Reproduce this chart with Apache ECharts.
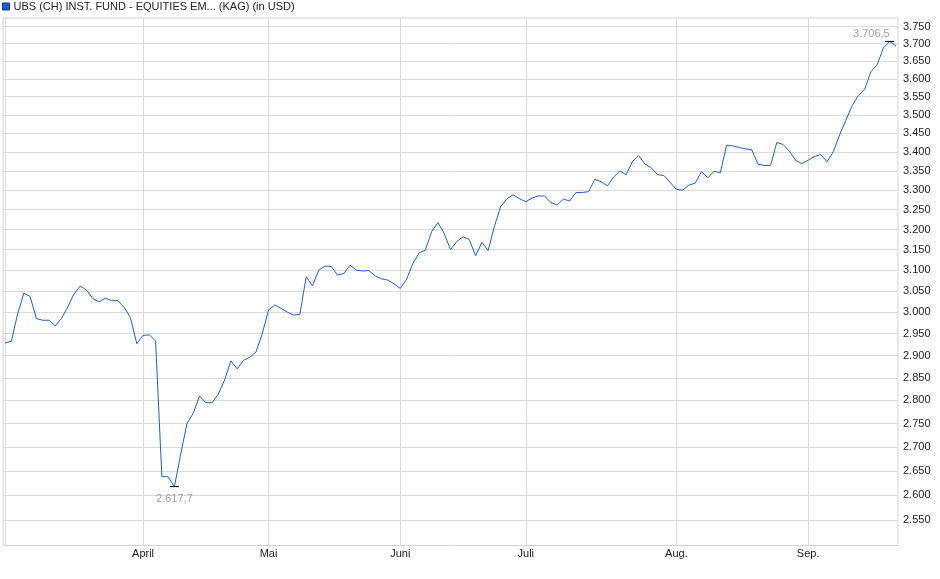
<!DOCTYPE html>
<html>
<head>
<meta charset="utf-8">
<script src="https://cdn.jsdelivr.net/npm/echarts@6/dist/echarts.min.js"></script>
<style>
  html, body { margin: 0; padding: 0; background: #fff; }
  #chart { width: 940px; height: 579px; }
</style>
</head>
<body>
<div id="chart"></div>
<script>
// Kursverlauf (Handelstage), Werte in USD
const seriesName = "UBS (CH) INST. FUND - EQUITIES EM... (KAG) (in USD)";

const values = [
    2929, 2932, 2995, 3045, 3037, 2985, 2981, 2981, 2968, 2985,
    3012, 3043, 3062, 3052, 3032, 3024, 3033, 3027, 3027, 3011,
    2987, 2927, 2946, 2947, 2933, 2638, 2638, 2617.7, 2685, 2750,
    2772, 2810, 2795, 2795, 2814, 2845, 2888, 2870, 2889, 2896,
    2908, 2950, 3005, 3017, 3009, 3000, 2993, 2995, 3084, 3062,
    3100, 3110, 3109, 3088, 3092, 3112, 3100, 3098, 3099, 3086,
    3079, 3076, 3067, 3056, 3078, 3116, 3142, 3149, 3195, 3217,
    3190, 3150, 3170, 3182, 3175, 3135, 3168, 3148, 3208, 3258,
    3278, 3288, 3278, 3270, 3280, 3285, 3285, 3268, 3262, 3277,
    3272, 3294, 3294, 3296, 3328, 3322, 3311, 3334, 3350, 3340,
    3375, 3390, 3368, 3358, 3340, 3338, 3320, 3302, 3300, 3313,
    3318, 3348, 3332, 3349, 3345, 3418, 3416, 3412, 3408, 3406,
    3368, 3364, 3364, 3425, 3420, 3402, 3378, 3369, 3378, 3388,
    3393, 3374, 3400, 3445, 3485, 3525, 3553, 3570, 3620, 3640,
    3688, 3706.5, 3693
];

// Monatsbeginn (Index des Handelstags) und Beschriftung
const monthLabels = ["April", "Mai", "Juni", "Juli", "Aug.", "Sep."];
const monthStarts = [22, 42, 63, 83, 107, 128];

// Beschriftete Kurswerte der logarithmischen Achse
const yTicks = [
    2550, 2600, 2650, 2700, 2750, 2800, 2850, 2900, 2950, 3000,
    3050, 3100, 3150, 3200, 3250, 3300, 3350, 3400, 3450, 3500,
    3550, 3600, 3650, 3700, 3750
];
const yMin = 2500;
const yMax = 3775;

const days = values.map((_, i) => String(i));

// Tausendertrennzeichen im deutschen Format.
function groupThousands(n) {
    return String(n).replace(/\B(?=(\d{3})+(?!\d))/g, ".");
}

function formatDecimal(v) {
    const [int, dec] = v.toFixed(1).split(".");
    return groupThousands(int) + "," + dec;
}

const font = "'Liberation Sans', Arial, sans-serif";
const gridColor = "#dadada";
const lineColor = "#1e5ec8";
const logTicks = yTicks.map(v => Math.log(v));

const chart = echarts.init(document.getElementById("chart"));
chart.setOption({
    animation: false,
    textStyle: { fontFamily: font },
    legend: {
        data: [{ name: seriesName, icon: "rect" }],
        left: 2,
        top: 1,
        padding: 0,
        itemWidth: 7,
        itemHeight: 7,
        itemGap: 4,
        itemStyle: { color: lineColor, borderColor: "#0a3a8a", borderWidth: 1 },
        textStyle: { fontSize: 11, color: "#222", fontFamily: font, padding: [1, 0, 0, -1] }
    },
    grid: [
        { left: 5, right: 44, top: 18, bottom: 33.5, containLabel: false },
        { left: 3, right: 42, top: 18, bottom: 33.5, show: true, borderColor: "#d2d2d2", borderWidth: 1 }
    ],
    xAxis: [
        {
            type: "category",
            gridIndex: 0,
            data: days,
            boundaryGap: false,
            axisLine: { show: false },
            axisTick: { show: false },
            axisLabel: {
                interval: index => monthStarts.includes(index),
                formatter: (value, index) => monthLabels[monthStarts.indexOf(index)] ?? "",
                color: "#222",
                fontSize: 11,
                margin: 3
            },
            splitLine: {
                show: true,
                interval: index => index === 0 || monthStarts.includes(index),
                lineStyle: { color: gridColor, width: 1 }
            }
        },
        { type: "value", gridIndex: 1, show: false, min: 0, max: 1 }
    ],
    yAxis: [
        {
            type: "value",
            gridIndex: 0,
            position: "right",
            min: Math.log(yMin),
            max: Math.log(yMax),
            axisLine: { show: false },
            axisTick: { show: false, customValues: logTicks },
            axisLabel: {
                customValues: logTicks,
                formatter: v => groupThousands(Math.round(Math.exp(v))),
                color: "#222",
                fontSize: 11,
                margin: 7
            },
            splitLine: { show: false }
        },
        {
            type: "value",
            gridIndex: 1,
            min: Math.log(yMin),
            max: Math.log(yMax),
            axisLine: { show: false },
            axisTick: { show: false, customValues: logTicks },
            axisLabel: { show: false },
            splitLine: { show: true, lineStyle: { color: gridColor, width: 1 } }
        }
    ],
    series: [
        {
            name: seriesName,
            type: "line",
            xAxisIndex: 0,
            yAxisIndex: 0,
            data: values.map(v => Math.log(v)),
            symbol: "none",
            color: lineColor,
            lineStyle: { color: lineColor, width: 1 },
            markPoint: {
                symbol: "rect",
                symbolSize: [9, 1],
                itemStyle: { color: "#000" },
                label: {
                    color: "#a0a0a0",
                    fontSize: 11,
                    fontFamily: font,
                    formatter: p => formatDecimal(Math.exp(p.value))
                },
                data: [
                    { type: "min", label: { position: "bottom", distance: 6 } },
                    { type: "max", label: { position: "top", align: "right", distance: 1 } }
                ]
            }
        }
    ]
});
</script>
</body>
</html>
